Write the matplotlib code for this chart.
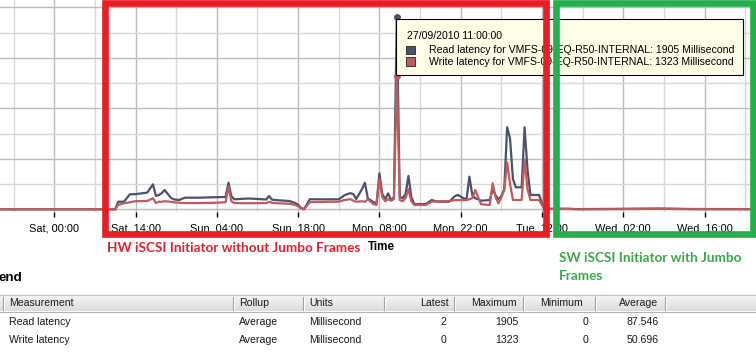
import matplotlib
matplotlib.use('Agg')
import matplotlib.pyplot as plt
import matplotlib.dates as mdates
from matplotlib.patches import Rectangle
from matplotlib.colors import LinearSegmentedColormap
import numpy as np
import pandas as pd

plt.rcParams['font.family'] = ['Liberation Sans', 'DejaVu Sans']

# ---------------- data ----------------
time_strings = [
    "24/09/2010 14:00", "25/09/2010 10:30", "25/09/2010 11:00", "25/09/2010 12:00",
    "25/09/2010 13:00", "25/09/2010 14:00", "25/09/2010 16:00", "25/09/2010 17:00",
    "25/09/2010 17:30", "25/09/2010 18:00", "25/09/2010 18:30", "25/09/2010 19:00",
    "25/09/2010 20:00", "25/09/2010 20:30", "25/09/2010 21:30", "25/09/2010 22:30",
    "26/09/2010 01:00", "26/09/2010 04:00", "26/09/2010 05:30", "26/09/2010 06:00",
    "26/09/2010 06:30", "26/09/2010 07:00", "26/09/2010 09:30", "26/09/2010 12:30",
    "26/09/2010 13:00", "26/09/2010 13:30", "26/09/2010 14:30", "26/09/2010 16:30",
    "26/09/2010 17:30", "26/09/2010 18:00", "26/09/2010 18:30", "26/09/2010 19:00",
    "26/09/2010 20:00", "26/09/2010 23:30", "27/09/2010 01:00", "27/09/2010 02:00",
    "27/09/2010 03:00", "27/09/2010 03:30", "27/09/2010 04:00", "27/09/2010 05:00",
    "27/09/2010 05:30", "27/09/2010 06:00", "27/09/2010 07:00", "27/09/2010 07:30",
    "27/09/2010 08:00", "27/09/2010 08:30", "27/09/2010 09:00", "27/09/2010 09:30",
    "27/09/2010 10:00", "27/09/2010 10:30", "27/09/2010 11:00", "27/09/2010 11:30",
    "27/09/2010 12:00", "27/09/2010 12:30", "27/09/2010 13:00", "27/09/2010 13:30",
    "27/09/2010 14:00", "27/09/2010 16:00", "27/09/2010 17:00", "27/09/2010 18:00",
    "27/09/2010 20:00", "27/09/2010 21:00", "27/09/2010 21:30", "27/09/2010 22:30",
    "27/09/2010 23:00", "27/09/2010 23:30", "28/09/2010 00:00", "28/09/2010 00:30",
    "28/09/2010 01:00", "28/09/2010 01:30", "28/09/2010 03:00", "28/09/2010 03:30",
    "28/09/2010 04:00", "28/09/2010 04:30", "28/09/2010 05:00", "28/09/2010 05:30",
    "28/09/2010 06:00", "28/09/2010 06:30", "28/09/2010 07:00", "28/09/2010 07:30",
    "28/09/2010 08:30", "28/09/2010 09:00", "28/09/2010 09:30", "28/09/2010 10:00",
    "28/09/2010 11:30", "28/09/2010 12:00", "28/09/2010 12:30", "28/09/2010 16:30",
    "28/09/2010 18:00", "29/09/2010 00:00", "29/09/2010 08:00", "29/09/2010 14:00",
    "30/09/2010 00:00",
]
read_latency = [
    0, 0, 75, 75,
    148, 150, 165, 247,
    132, 140, 160, 191,
    120, 99, 92, 115,
    115, 120, 122, 263,
    130, 99, 107, 97,
    132, 95, 90, 82,
    62, 45, 15, 0,
    99, 99, 99, 140,
    160, 150, 102, 200,
    263, 109, 70, 59,
    356, 150, 100, 158,
    92, 120, 1905, 125,
    110, 150, 330, 120,
    52, 52, 92, 75,
    75, 130, 142, 109,
    100, 323, 140, 109,
    100, 85, 92, 200,
    140, 99, 130, 200,
    812, 700, 300, 218,
    218, 812, 400, 142,
    142, 60, 5, 6,
    2, 4, 8, 3,
    2,
]
write_latency = [
    0, 0, 43, 59,
    70, 80, 82, 109,
    62, 75, 75, 80,
    75, 70, 65, 62,
    62, 65, 70, 224,
    80, 62, 60, 62,
    75, 65, 60, 55,
    43, 30, 10, 0,
    70, 75, 75, 92,
    100, 85, 75, 80,
    75, 100, 50, 43,
    300, 120, 80, 100,
    85, 100, 1323, 92,
    80, 110, 200, 80,
    43, 43, 75, 80,
    82, 90, 92, 90,
    92, 100, 110, 191,
    120, 50, 43, 257,
    120, 59, 120, 191,
    465, 250, 92, 92,
    92, 495, 200, 92,
    92, 40, 3, 3,
    0, 1, 4, 1,
    0,
]
tick_times = ["25/09/2010 00:00", "25/09/2010 14:00", "26/09/2010 04:00", "26/09/2010 18:00",
              "27/09/2010 08:00", "27/09/2010 22:00", "28/09/2010 12:00", "29/09/2010 02:00",
              "29/09/2010 16:00"]
tick_labels = ["Sat, 00:00", "Sat, 14:00", "Sun, 04:00", "Sun, 18:00", "Mon, 08:00",
               "Mon, 22:00", "Tue, 12:00", "Wed, 02:00", "Wed, 16:00"]
series_name = "VMFS-09-EQ-R50-INTERNAL"
units = "Millisecond"

table_columns = ["Measurement", "Rollup", "Units", "Latest", "Maximum", "Minimum", "Average"]
table_measurement = ["Read latency", "Write latency"]
table_rollup = ["Average", "Average"]
table_units = ["Millisecond", "Millisecond"]
table_latest = [2, 0]
table_maximum = [1905, 1323]
table_minimum = [0, 0]
table_average = [87.546, 50.696]

hw_label = "HW iSCSI Initiator without Jumbo Frames"
sw_label = ["SW iSCSI Initiator with Jumbo", "Frames"]

# ---------------- figure ----------------
W, H = 756, 353
fig = plt.figure(figsize=(W / 100, H / 100), dpi=100)
fig.patch.set_facecolor('white')


def px_rect(x0, y0, x1, y1):
    return [x0 / W, 1 - y1 / H, (x1 - x0) / W, (y1 - y0) / H]


read_color = '#4c5269'
write_color = '#c05a5e'

ax = fig.add_axes(px_rect(0, 0, 751, 212))
times = pd.to_datetime(time_strings, format='%d/%m/%Y %H:%M')
ax.plot(times, read_latency, color=read_color, lw=1.6, solid_joinstyle='round', zorder=3)
ax.plot(times, write_latency, color=write_color, lw=1.6, solid_joinstyle='round', zorder=4)

i_peak = int(np.argmax(read_latency))
ax.plot([times[i_peak]], [read_latency[i_peak]], 'o', color=read_color, ms=4, zorder=5)
ax.plot([times[i_peak]], [write_latency[i_peak]], 'o', color=write_color, ms=4, zorder=5)

ax.set_ylim(-26.7, 2072.3)
ax.set_xlim(pd.Timestamp('2010-09-24 14:39'), pd.Timestamp('2010-09-30 00:00'))

tt = pd.to_datetime(tick_times, format='%d/%m/%Y %H:%M')
ax.set_xticks(mdates.date2num(tt))
ax.set_xticklabels(tick_labels)
minor = pd.date_range('2010-09-24 17:00', '2010-09-30 00:00', freq='14h')
ax.set_xticks(mdates.date2num(minor), minor=True)
ax.set_yticks(np.arange(0, 2001, 500))
ax.set_yticks(np.arange(250, 2001, 500), minor=True)
ax.grid(True, which='major', color='#bcbcbc', lw=1)
ax.grid(True, which='minor', color='#d8d8d8', lw=1)
ax.set_axisbelow(True)
for s in ax.spines.values():
    s.set_visible(False)
ax.tick_params(axis='x', which='major', length=3.5, width=1, color='black', pad=4.5,
               labelsize=7.9, labelcolor='black')
ax.tick_params(axis='x', which='minor', length=0)
ax.tick_params(axis='y', which='both', length=0, labelleft=False)
ax.set_facecolor('white')

# ---------------- overlay ----------------
ov = fig.add_axes([0, 0, 1, 1])
ov.set_zorder(10)
ov.patch.set_alpha(0)
ov.axis('off')

# tooltip
ov.add_patch(Rectangle((396, 19.3), 347.3, 55.7, fc='#fdfde8', ec='black', lw=0.8, zorder=2))
ov.add_patch(Rectangle((406, 45.7), 9, 8.8, fc=read_color, ec='#222222', lw=0.6, zorder=3))
ov.add_patch(Rectangle((406, 57.3), 9, 8.8, fc=write_color, ec='#222222', lw=0.6, zorder=3))
t_head = ov.text(407.3, 36, times[i_peak].strftime('%d/%m/%Y %H:%M:%S'), ha='left', va='center',
                 fontsize=7.6, color='black', zorder=3)
t_r = ov.text(429, 50, f"Read latency for {series_name}: {read_latency[i_peak]} {units}",
              ha='left', va='center', fontsize=7.6, color='black', zorder=3)
t_w = ov.text(429, 61.7, f"Write latency for {series_name}: {write_latency[i_peak]} {units}",
              ha='left', va='center', fontsize=7.6, color='black', zorder=3)

# highlighted boxes
ov.add_patch(Rectangle((105, 3.4), 440.5, 230.6, fill=False, ec='#ed1c24', lw=4.8,
                       joinstyle='miter', zorder=8))
ov.add_patch(Rectangle((556, 3.4), 197, 230.6, fill=False, ec='#22b14c', lw=4.8,
                       joinstyle='miter', zorder=8))

t_hw = ov.text(107.3, 248.3, hw_label, ha='left', va='center', color='#e8202a',
               fontsize=11, fontweight='bold', family=['Lato', 'DejaVu Sans'], zorder=8)
t_sw1 = ov.text(559.3, 258.3, sw_label[0], ha='left', va='center', color='#3aa94b',
                fontsize=11, fontweight='bold', family=['Lato', 'DejaVu Sans'], zorder=8)
t_sw2 = ov.text(559.3, 275.7, sw_label[1], ha='left', va='center', color='#3aa94b',
                fontsize=11, fontweight='bold', family=['Lato', 'DejaVu Sans'], zorder=8)
t_time = ov.text(368.3, 246.7, "Time", ha='left', va='center', color='black',
                 fontsize=8, fontweight='bold', zorder=8)
t_end = ov.text(-1.5, 278.3, "end", ha='left', va='center', color='black',
                fontsize=9.6, fontweight='bold', zorder=8)

# table header band
cmap = LinearSegmentedColormap.from_list('hdr', ['#f7f7f7', '#dcdcdc'])
ov.imshow(np.linspace(0, 1, 32)[:, None], extent=(0, W, 311.5, 295), cmap=cmap,
          aspect='auto', origin='upper', zorder=1, interpolation='bilinear')
ov.plot([0, W], [295, 295], color='#c4c4c4', lw=0.8, zorder=2)
ov.plot([0, W], [311.5, 311.5], color='#b4b4b4', lw=0.8, zorder=2)
for sx in [3.3, 233.3, 303.3, 384, 454, 523.3, 595, 665]:
    ov.plot([sx, sx], [297, 310], color='#9c9c9c', lw=0.8, zorder=2)
    ov.plot([sx + 1, sx + 1], [297, 310], color='white', lw=0.8, zorder=2)

hdr_x = [9.3, 239.3, 309.3, 448.3, 516.7, 583.3, 658.3]
hdr_ha = ['left', 'left', 'left', 'right', 'right', 'right', 'right']
val_x = [9.3, 239.3, 309.3, 446, 518.3, 588.3, 658.7]
table_texts = []
for c, x, ha in zip(table_columns, hdr_x, hdr_ha):
    table_texts.append(ov.text(x, 303.3, c, ha=ha, va='center', fontsize=7.7,
                               color='#1a1a1a', zorder=3))
row_y = [322.3, 340]
for r in range(2):
    vals = [table_measurement[r], table_rollup[r], table_units[r], f"{table_latest[r]}",
            f"{table_maximum[r]}", f"{table_minimum[r]}", f"{table_average[r]:.3f}"]
    for v, x, ha in zip(vals, val_x, hdr_ha):
        table_texts.append(ov.text(x, row_y[r], v, ha=ha, va='center', fontsize=7.7,
                                   color='#1a1a1a', zorder=3))

ov.set_xlim(0, W)
ov.set_ylim(H, 0)

# fit text sizes to measured widths
fig.canvas.draw()
rend = fig.canvas.get_renderer()


def scale_for(t, target):
    return target / t.get_window_extent(rend).width


k = scale_for(t_r, 305)
for t in (t_head, t_r, t_w):
    t.set_fontsize(t.get_fontsize() * k)
k = scale_for(t_hw, 251)
t_hw.set_fontsize(t_hw.get_fontsize() * k)
k = scale_for(t_sw1, 181)
for t in (t_sw1, t_sw2):
    t.set_fontsize(t.get_fontsize() * k)
t_time.set_fontsize(t_time.get_fontsize() * scale_for(t_time, 27))
k = scale_for(table_texts[0], 64.7)
for t in table_texts:
    t.set_fontsize(t.get_fontsize() * k)

fig.savefig('out.png', dpi=100, facecolor='white')
